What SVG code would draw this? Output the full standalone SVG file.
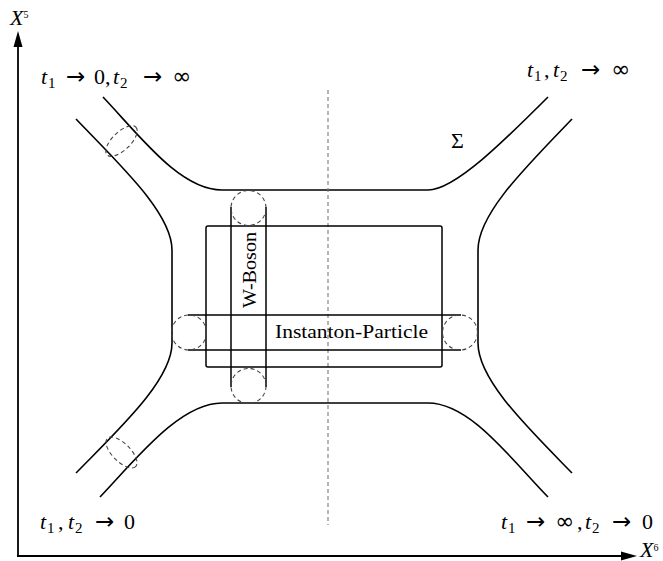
<svg xmlns="http://www.w3.org/2000/svg" width="663" height="561" viewBox="0 0 663 561">
<style>
.curve{fill:none;stroke:#000;stroke-width:1.6}
.solid{fill:none;stroke:#000;stroke-width:1.5}
.dash{fill:none;stroke:#444;stroke-width:1.1;stroke-dasharray:4 3}
.axis{fill:none;stroke:#000;stroke-width:1.8}
.math{font-family:"Liberation Serif","DejaVu Serif",serif;font-size:22px;fill:#000}
.lbl{font-family:"Liberation Serif","DejaVu Serif",serif;font-size:19px;fill:#000}
.it{font-style:italic}
.sub{font-size:15px}
.sym{font-family:"DejaVu Sans",sans-serif;font-size:23px}
</style>
<rect width="663" height="561" fill="#fff"/>
<g id="axes">
  <line class="axis" x1="18" y1="556" x2="18" y2="44"/>
  <polygon points="18,31 13.5,47 22.5,47" fill="#000"/>
  <line class="axis" x1="17" y1="556" x2="622" y2="556"/>
  <polygon points="637,556 621,551.5 621,560.5" fill="#000"/>
  <text class="math it" x="10" y="25" font-size="15">X<tspan font-style="normal" font-size="10" dy="-7">5</tspan></text>
  <text class="math it" x="640" y="557" font-size="14">X<tspan font-style="normal" font-size="10" dy="-6">6</tspan></text>
</g>
<g id="surface">
  <path class="curve" d="M103,97 C140,136 180,190 222,190 L428,190 C455,190 505,140 548,97"/>
  <path class="curve" d="M100,497 C137,458 180,403 222,403 L428,403 C470,403 510,458 548,497"/>
  <path class="curve" d="M76,119 C120,165 172,213 172,250 L172,343 C172,380 120,428 76,473"/>
  <path class="curve" d="M572,119 C528,165 478,213 478,250 L478,343 C478,380 528,428 572,473"/>
  <ellipse class="dash" cx="121.5" cy="141" rx="20" ry="9" transform="rotate(-44 121.5 141)"/>
  <ellipse class="dash" cx="121.5" cy="452.5" rx="20" ry="9" transform="rotate(45 121.5 452.5)"/>
  <text class="math" x="451" y="148">Σ</text>
</g>
<g id="divider">
  <line x1="328" y1="90" x2="328" y2="525" stroke="#777" stroke-width="1.1" stroke-dasharray="4 3"/>
</g>
<g id="box">
  <rect class="solid" x="206" y="226" width="236" height="141" rx="2"/>
</g>
<g id="instanton">
  <line class="solid" x1="188" y1="315" x2="461" y2="315"/>
  <line class="solid" x1="188" y1="350" x2="461" y2="350"/>
  <circle class="dash" cx="189" cy="332.5" r="17.5"/>
  <circle class="dash" cx="460" cy="332.5" r="17.5"/>
  <text class="lbl" x="351.5" y="338" text-anchor="middle" textLength="153" lengthAdjust="spacingAndGlyphs">Instanton-Particle</text>
</g>
<g id="wboson">
  <line class="solid" x1="231" y1="207" x2="231" y2="387"/>
  <line class="solid" x1="266" y1="207" x2="266" y2="387"/>
  <circle class="dash" cx="248.5" cy="208" r="17.5"/>
  <circle class="dash" cx="248.5" cy="386" r="17.5"/>
  <text class="lbl" transform="translate(256 270) rotate(-90)" x="0" y="0" text-anchor="middle" textLength="76" lengthAdjust="spacingAndGlyphs">W-Boson</text>
</g>
<g id="labels">
  <text class="math"><tspan class="it" x="41" y="84">t</tspan><tspan class="sub" x="48" y="88">1</tspan><tspan class="sym" x="66" y="84">→</tspan><tspan x="94" y="84">0,</tspan><tspan class="it" x="113" y="84">t</tspan><tspan class="sub" x="120" y="88">2</tspan><tspan class="sym" x="143" y="84">→</tspan><tspan class="sym" x="172" y="84">∞</tspan></text>
  <text class="math"><tspan class="it" x="527" y="77">t</tspan><tspan class="sub" x="534" y="81">1</tspan><tspan x="544" y="77">,</tspan><tspan class="it" x="553" y="77">t</tspan><tspan class="sub" x="560" y="81">2</tspan><tspan class="sym" x="581" y="77">→</tspan><tspan class="sym" x="611" y="77">∞</tspan></text>
  <text class="math"><tspan class="it" x="40" y="529">t</tspan><tspan class="sub" x="47" y="533">1</tspan><tspan x="58" y="529">,</tspan><tspan class="it" x="68" y="529">t</tspan><tspan class="sub" x="75" y="533">2</tspan><tspan class="sym" x="95" y="529">→</tspan><tspan x="124" y="529">0</tspan></text>
  <text class="math"><tspan class="it" x="501" y="529">t</tspan><tspan class="sub" x="508" y="533">1</tspan><tspan class="sym" x="526" y="529">→</tspan><tspan class="sym" x="555" y="529">∞</tspan><tspan x="577" y="529">,</tspan><tspan class="it" x="585" y="529">t</tspan><tspan class="sub" x="592" y="533">2</tspan><tspan class="sym" x="612" y="529">→</tspan><tspan x="642" y="529">0</tspan></text>
</g>
</svg>
